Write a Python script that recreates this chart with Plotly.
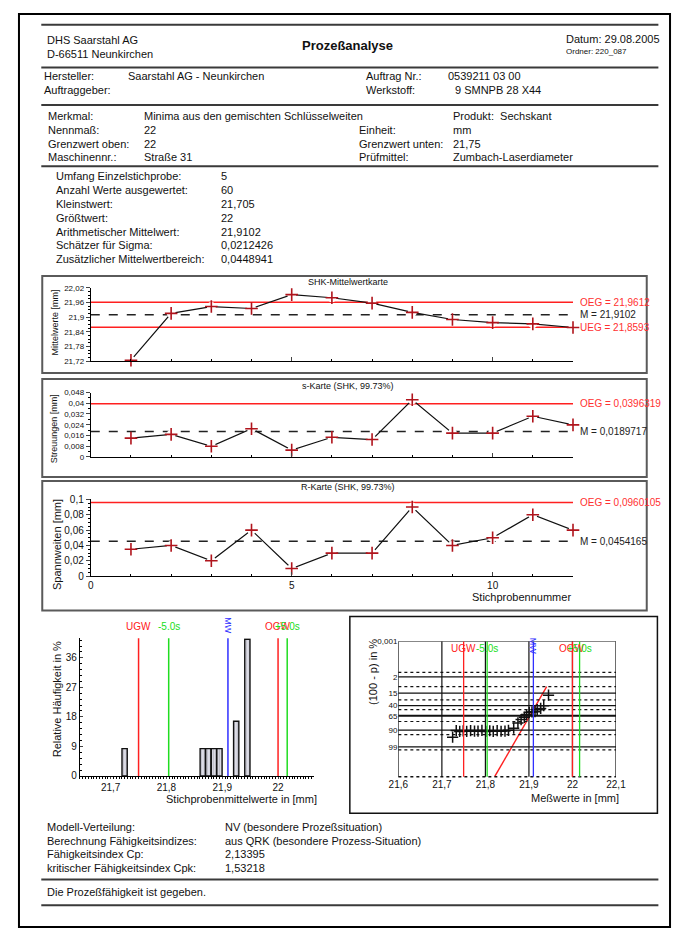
import plotly.graph_objects as go
from statistics import NormalDist

# The page body keeps its default 8px margin, so the figure is sized to fit the window exactly
MARGIN = 8
W, H = 689 - 2 * MARGIN, 941 - 2 * MARGIN
FONT = "Liberation Sans, Arial, sans-serif"


def PX(x):
    return (x - MARGIN) / W


def PY(y):
    return 1 - (y - MARGIN) / H


# ---------------- data ----------------
company = ["DHS Saarstahl AG", "D-66511 Neunkirchen"]
report_title = "Prozeßanalyse"
date_text = "Datum: 29.08.2005"
folder_text = "Ordner: 220_087"

order_labels_left = ["Hersteller:", "Auftraggeber:"]
order_values_left = ["Saarstahl AG - Neunkirchen", ""]
order_labels_right = ["Auftrag Nr.:", "Werkstoff:"]
order_values_right = ["0539211 03 00", "9 SMNPB 28 X44"]

feature_labels_left = ["Merkmal:", "Nennmaß:", "Grenzwert oben:", "Maschinennr.:"]
feature_values_left = ["Minima aus den gemischten Schlüsselweiten", "22", "22", "Straße 31"]
feature_labels_right = ["", "Einheit:", "Grenzwert unten:", "Prüfmittel:"]
feature_values_right = ["Produkt:  Sechskant", "mm", "21,75", "Zumbach-Laserdiameter"]

stat_labels = ["Umfang Einzelstichprobe:", "Anzahl Werte ausgewertet:", "Kleinstwert:",
               "Größtwert:", "Arithmetischer Mittelwert:", "Schätzer für Sigma:",
               "Zusätzlicher Mittelwertbereich:"]
stat_values = ["5", "60", "21,705", "22", "21,9102", "0,0212426", "0,0448941"]

sample_no = [1, 2, 3, 4, 5, 6, 7, 8, 9, 10, 11, 12]
xbar_values = [21.724, 21.916, 21.944, 21.936, 21.993, 21.980, 21.958, 21.920, 21.891, 21.878, 21.873, 21.858]
s_values = [0.0140, 0.0168, 0.0079, 0.0210, 0.0050, 0.0146, 0.0129, 0.0426, 0.0177, 0.0177, 0.0303, 0.0239]
r_values = [0.035, 0.040, 0.020, 0.060, 0.010, 0.030, 0.030, 0.090, 0.040, 0.050, 0.080, 0.060]

xbar_oeg, xbar_m, xbar_ueg = 21.9612, 21.9102, 21.8593
s_oeg, s_m = 0.0396319, 0.0189717
r_oeg, r_m = 0.0960105, 0.0454165

xbar_ticks = [21.72, 21.78, 21.84, 21.9, 21.96, 22.02]
s_ticks = [0, 0.008, 0.016, 0.024, 0.032, 0.04, 0.048]
r_ticks = [0, 0.02, 0.04, 0.06, 0.08, 0.1]
sample_ticks = [0, 5, 10]

chart_titles = ["SHK-Mittelwertkarte", "s-Karte (SHK, 99.73%)", "R-Karte (SHK, 99.73%)"]

hist_centers = [21.725, 21.865, 21.875, 21.885, 21.895, 21.925, 21.945]
hist_pct = [8.33, 8.33, 8.33, 8.33, 8.33, 16.67, 41.67]
hist_xticks = [21.7, 21.8, 21.9, 22.0]
hist_yticks = [0, 9, 18, 27, 36]

spec_names = ["UGW", "-5.0s", "MW", "OGW", "+5.0s"]
spec_values = [21.75, 21.804, 21.9102, 22.0, 22.0164]

mean_value, sigma_value = 21.9102, 0.0212426

prob_x = [21.7247, 21.733, 21.741, 21.749, 21.757, 21.766, 21.775, 21.783, 21.792,
          21.801, 21.810, 21.818, 21.827, 21.836, 21.845, 21.853,
          21.865, 21.8747, 21.882, 21.8895, 21.8946, 21.9007, 21.907, 21.914,
          21.919, 21.927, 21.934, 21.945]
prob_q = [95.7, 90.4, 91.3, 90.8, 91.2, 90.4, 91.0, 90.9, 90.3,
          91.3, 90.6, 91.2, 90.5, 91.1, 90.9, 90.2,
          87.6, 79.6, 73.1, 68.3, 62.0, 56.6, 55.5, 54.9,
          50.0, 46.8, 40.2, 18.3]
fit_q = [99.9986, 7.5]
prob_tick_q = [0.001, 2, 15, 40, 65, 90, 99]
prob_tick_text = ["0,001", "2", "15", "40", "65", "90", "99"]
prob_dotted_q = [1, 7.5, 27, 50, 77, 94, 99.4]
prob_xticks = [21.6, 21.7, 21.8, 21.9, 22.0, 22.1]
prob_vgrid = [21.6, 21.7, 21.8, 21.9, 22.0, 22.1]

result_labels = ["Modell-Verteilung:", "Berechnung Fähigkeitsindizes:",
                 "Fähigkeitsindex Cp:", "kritischer Fähigkeitsindex Cpk:"]
result_values = ["NV (besondere Prozeßsituation)", "aus QRK (besondere Prozess-Situation)",
                 "2,13395", "1,53218"]
conclusion = "Die Prozeßfähigkeit ist gegeben."


def de(v):
    return ("%g" % v).replace(".", ",")


nd = NormalDist()


def zq(q):
    return nd.inv_cdf(1 - q / 100.0)


# ---------------- figure ----------------
fig = go.Figure()
ann = []
shapes = []


def txt(x, y, s, size=11, xanchor="left", color="#111", bold=False, angle=0, xref="paper", yref="paper"):
    if bold:
        s = "<b>" + s + "</b>"
    ann.append(dict(x=x, y=y, xref=xref, yref=yref, text=s, showarrow=False,
                    xanchor=xanchor, yanchor="middle", textangle=angle, borderpad=0,
                    font=dict(family=FONT, size=size, color=color)))


def hrule(y, x0=32, x1=668, w=2, color="#3a3a3a"):
    shapes.append(dict(type="line", xref="paper", yref="paper", x0=PX(x0), x1=PX(x1),
                       y0=PY(y), y1=PY(y), line=dict(color=color, width=w)))


def box(x0, y0, x1, y1, color="#5a5a5a", w=2):
    shapes.append(dict(type="rect", xref="paper", yref="paper", x0=PX(x0), x1=PX(x1),
                       y0=PY(y1), y1=PY(y0), line=dict(color=color, width=w)))


# page border (as close to the page edge as the body margin allows)
box(9, 9, 680, 932, color="#000", w=2)

# header
hrule(20)
txt(PX(37), PY(35), company[0])
txt(PX(37), PY(49), company[1])
txt(PX(348), PY(41), report_title, size=13, xanchor="center", bold=True)
txt(PX(572), PY(34), date_text, size=11)
txt(PX(572), PY(47), folder_text, size=8)
hrule(63)
for i in range(2):
    yy = 72 + 14 * i
    txt(PX(34), PY(yy), order_labels_left[i])
    txt(PX(120), PY(yy), order_values_left[i])
    txt(PX(366), PY(yy), order_labels_right[i])
txt(PX(450), PY(72), order_values_right[0])
txt(PX(457), PY(86), order_values_right[1])
hrule(101)
for i in range(4):
    yy = 112 + 14 * i
    txt(PX(38), PY(yy), feature_labels_left[i])
    txt(PX(137), PY(yy), feature_values_left[i])
    txt(PX(358), PY(yy), feature_labels_right[i])
    txt(PX(455), PY(yy), feature_values_right[i])
hrule(163)
for i in range(len(stat_labels)):
    yy = 173 + 14 * i
    txt(PX(46), PY(yy), stat_labels[i])
    txt(PX(216), PY(yy), stat_values[i])

# ---------------- control charts ----------------
cc_x_dom = [PX(83), PX(580)]
charts = [
    dict(xa="x", ya="y", vals=xbar_values, ticks=xbar_ticks, rng=[21.72, 22.02], top=286, bot=360,
         box=(33, 274, 656, 372), title_y=280, ytitle="Mittelwerte [mm]", ytitle_x=46, ytitle_y=321,
         fs=8, tfs=9, minor=0.015,
         limits=[(xbar_oeg, "OEG", "#ff2020"), (xbar_m, "M", "#222"), (xbar_ueg, "UEG", "#ff2020")]),
    dict(xa="x2", ya="y2", vals=s_values, ticks=s_ticks, rng=[0, 0.048], top=391.7, bot=456.7,
         box=(33, 378, 656, 477), title_y=385, ytitle="Streuungen [mm]", ytitle_x=46, ytitle_y=428,
         fs=8, tfs=9, minor=0.004,
         limits=[(s_oeg, "OEG", "#ff2020"), (s_m, "M", "#222")]),
    dict(xa="x3", ya="y3", vals=r_values, ticks=r_ticks, rng=[0, 0.1], top=499.7, bot=577.3,
         box=(33, 481, 656, 612), title_y=487, ytitle="Spannweiten [mm]", ytitle_x=48, ytitle_y=545,
         fs=10, tfs=11, minor=0.005,
         limits=[(r_oeg, "OEG", "#ff2020"), (r_m, "M", "#222")]),
]
layout_axes = {}
values_fmt = {xbar_oeg: "21,9612", xbar_m: "21,9102", xbar_ueg: "21,8593",
              s_oeg: "0,0396319", s_m: "0,0189717", r_oeg: "0,0960105", r_m: "0,0454165"}
for k, c in enumerate(charts):
    box(*c["box"])
    txt(PX(348), PY(c["title_y"]), chart_titles[k], size=9, xanchor="center")
    txt(PX(c["ytitle_x"]), PY(c["ytitle_y"]), c["ytitle"], size=c["tfs"], xanchor="center", angle=-90)
    xname = "xaxis" if c["xa"] == "x" else "xaxis" + c["xa"][1:]
    yname = "yaxis" if c["ya"] == "y" else "yaxis" + c["ya"][1:]
    last = (k == 2)
    layout_axes[xname] = dict(domain=cc_x_dom, range=[0, 12], anchor=c["ya"], showline=True,
                              linecolor="#000", linewidth=1, ticks="inside", ticklen=4,
                              tickmode="array", tickvals=sample_ticks,
                              ticktext=[de(v) for v in sample_ticks], showticklabels=last,
                              tickfont=dict(family=FONT, size=10, color="#111"),
                              minor=dict(ticks="inside", ticklen=2, dtick=1, tick0=0, tickcolor="#000"),
                              showgrid=False, zeroline=False, fixedrange=True)
    layout_axes[yname] = dict(domain=[PY(c["bot"]), PY(c["top"])], range=c["rng"], anchor=c["xa"],
                              showline=True, linecolor="#000", linewidth=1, ticks="outside", ticklen=4,
                              tickmode="array", tickvals=c["ticks"], ticktext=[de(v) for v in c["ticks"]],
                              tickfont=dict(family=FONT, size=c["fs"], color="#111"),
                              minor=dict(ticks="outside", ticklen=2, dtick=c["minor"], tick0=0, tickcolor="#000"),
                              showgrid=False, zeroline=False, fixedrange=True)
    for (v, name, col) in c["limits"]:
        shapes.append(dict(type="line", xref=c["xa"] + " domain", yref=c["ya"], x0=0, x1=1, y0=v, y1=v,
                           line=dict(color=col, width=1.5, dash="dash" if name == "M" else "solid"),
                           layer="below"))
        txt(PX(586), v, name + " = " + values_fmt[v], size=10,
            color="#ff3030" if name != "M" else "#222", yref=c["ya"])
    # connecting line
    fig.add_trace(go.Scatter(x=sample_no, y=c["vals"], mode="lines", xaxis=c["xa"], yaxis=c["ya"],
                             line=dict(color="#111", width=1.2), cliponaxis=False, hoverinfo="skip"))
    # small white gap around each sample point, as in the original print
    fig.add_trace(go.Scatter(x=sample_no, y=c["vals"], mode="markers", xaxis=c["xa"], yaxis=c["ya"],
                             marker=dict(symbol="circle", size=9, color="white", line=dict(width=0)),
                             cliponaxis=False, hoverinfo="skip"))
    fig.add_trace(go.Scatter(x=sample_no, y=c["vals"], mode="markers", xaxis=c["xa"], yaxis=c["ya"],
                             marker=dict(symbol="cross-thin", size=9, color="#b0141c",
                                         line=dict(color="#b0141c", width=1.6)),
                             cliponaxis=False, hoverinfo="skip"))

txt(PX(527), PY(598), "Stichprobennummer", size=11, xanchor="center")

# ---------------- histogram ----------------
spec_colors = ["#ff2020", "#20dd20", "#3030ff", "#ff2020", "#20dd20"]
fig.add_trace(go.Bar(x=hist_centers, y=hist_pct, width=0.0094, xaxis="x4", yaxis="y4",
                     marker=dict(color="#dcdce6", line=dict(color="#111", width=1.4),
                                 pattern=dict(shape="|", fgcolor="#8a8a96", size=3, solidity=0.25)),
                     hoverinfo="skip"))
layout_axes["xaxis4"] = dict(domain=[PX(71.7), PX(313)], range=[21.6447, 22.0643], anchor="y4",
                             showline=True, linecolor="#000", linewidth=1, ticks="outside", ticklen=2,
                             tickmode="array", tickvals=hist_xticks, ticktext=[de(v) for v in hist_xticks],
                             tickfont=dict(family=FONT, size=10, color="#111"),
                             minor=dict(ticks="outside", ticklen=2, dtick=0.005, tick0=21.6, tickcolor="#000"),
                             showgrid=False, zeroline=False, fixedrange=True)
layout_axes["yaxis4"] = dict(domain=[PY(779.3), PY(640)], range=[0, 42], anchor="x4",
                             showline=True, linecolor="#000", linewidth=1, ticks="inside", ticklen=3,
                             tickmode="array", tickvals=hist_yticks, ticktext=[de(v) for v in hist_yticks],
                             tickfont=dict(family=FONT, size=10, color="#111"),
                             minor=dict(ticks="inside", ticklen=2, dtick=1.8, tick0=0, tickcolor="#000"),
                             showgrid=False, zeroline=False, fixedrange=True)
for name, v, col in zip(spec_names, spec_values, spec_colors):
    shapes.append(dict(type="line", xref="x4", yref="y4 domain", x0=v, x1=v, y0=0, y1=1,
                       line=dict(color=col, width=1.5)))
    if name == "MW":
        txt(v, PY(627), name, size=9, xanchor="center", color=col, angle=90, xref="x4")
    else:
        txt(v, PY(628), name, size=10, xanchor="center", color=col, xref="x4")
txt(PX(49), PY(702), "Relative Häufigkeit in %", size=11, xanchor="center", angle=-90)
txt(PX(238), PY(803), "Stichprobenmittelwerte in [mm]", size=11, xanchor="center")

# ---------------- probability plot ----------------
box(350, 618, 667, 817, color="#111", w=1.5)
zr = [-4.185, 4.265]
for q in prob_tick_q:
    shapes.append(dict(type="line", xref="x5 domain", yref="y5", x0=0, x1=1, y0=zq(q), y1=zq(q),
                       line=dict(color="#111", width=2 if q == 65 else 1.2)))
for q in prob_dotted_q:
    shapes.append(dict(type="line", xref="x5 domain", yref="y5", x0=0, x1=1, y0=zq(q), y1=zq(q),
                       line=dict(color="#111", width=1.2, dash="dot")))
shapes.append(dict(type="line", xref="x5 domain", yref="y5 domain", x0=0, x1=1, y0=0, y1=0,
                   line=dict(color="#111", width=1.5, dash="dot")))
for v in prob_vgrid:
    shapes.append(dict(type="line", xref="x5", yref="y5 domain", x0=v, x1=v, y0=0, y1=1,
                       line=dict(color="#111", width=1.2)))
for name, v, col in zip(spec_names, spec_values, spec_colors):
    shapes.append(dict(type="line", xref="x5", yref="y5 domain", x0=v, x1=v, y0=0, y1=1,
                       line=dict(color=col, width=1.3)))
    if name == "MW":
        txt(v, PY(648), name, size=9, xanchor="center", color=col, angle=90, xref="x5")
    else:
        txt(v, PY(650), name, size=10, xanchor="center", color=col, xref="x5")

fit_z = [zq(q) for q in fit_q]
fig.add_trace(go.Scatter(x=[mean_value + sigma_value * z for z in fit_z], y=fit_z, mode="lines",
                         xaxis="x5", yaxis="y5", line=dict(color="#ff2020", width=1.4), hoverinfo="skip"))
fig.add_trace(go.Scatter(x=prob_x, y=[zq(q) for q in prob_q], mode="markers", xaxis="x5", yaxis="y5",
                         marker=dict(symbol="cross-thin", size=8, color="#111", line=dict(color="#111", width=1.5)),
                         hoverinfo="skip"))
layout_axes["xaxis5"] = dict(domain=[PX(400), PX(624.3)], range=[21.6, 22.1], anchor="y5",
                             showline=False, ticks="", tickmode="array", tickvals=prob_xticks,
                             ticktext=[de(v) for v in prob_xticks],
                             tickfont=dict(family=FONT, size=10, color="#111"),
                             showgrid=False, zeroline=False, fixedrange=True)
layout_axes["yaxis5"] = dict(domain=[PY(780), PY(643.3)], range=zr, anchor="x5",
                             showline=False, ticks="", tickmode="array",
                             tickvals=[zq(q) for q in prob_tick_q], ticktext=prob_tick_text,
                             tickfont=dict(family=FONT, size=8, color="#111"),
                             showgrid=False, zeroline=False, fixedrange=True)
txt(PX(374), PY(674), "(100 - p) in %", size=11, xanchor="center", angle=-90)
txt(PX(582), PY(802), "Meßwerte in [mm]", size=11, xanchor="center")

# ---------------- results ----------------
for i in range(4):
    yy = 831 + 13.7 * i
    txt(PX(37), PY(yy), result_labels[i])
    txt(PX(220), PY(yy), result_values[i])
hrule(884)
txt(PX(37), PY(897), conclusion)
hrule(910)

fig.update_layout(width=W, height=H, margin=dict(l=0, r=0, t=0, b=0), autosize=False,
                  paper_bgcolor="white", plot_bgcolor="white", showlegend=False,
                  font=dict(family=FONT, size=11, color="#111"), bargap=0,
                  annotations=ann, shapes=shapes, **layout_axes)

fig.write_html("out.html", config={"displayModeBar": False, "staticPlot": True})
